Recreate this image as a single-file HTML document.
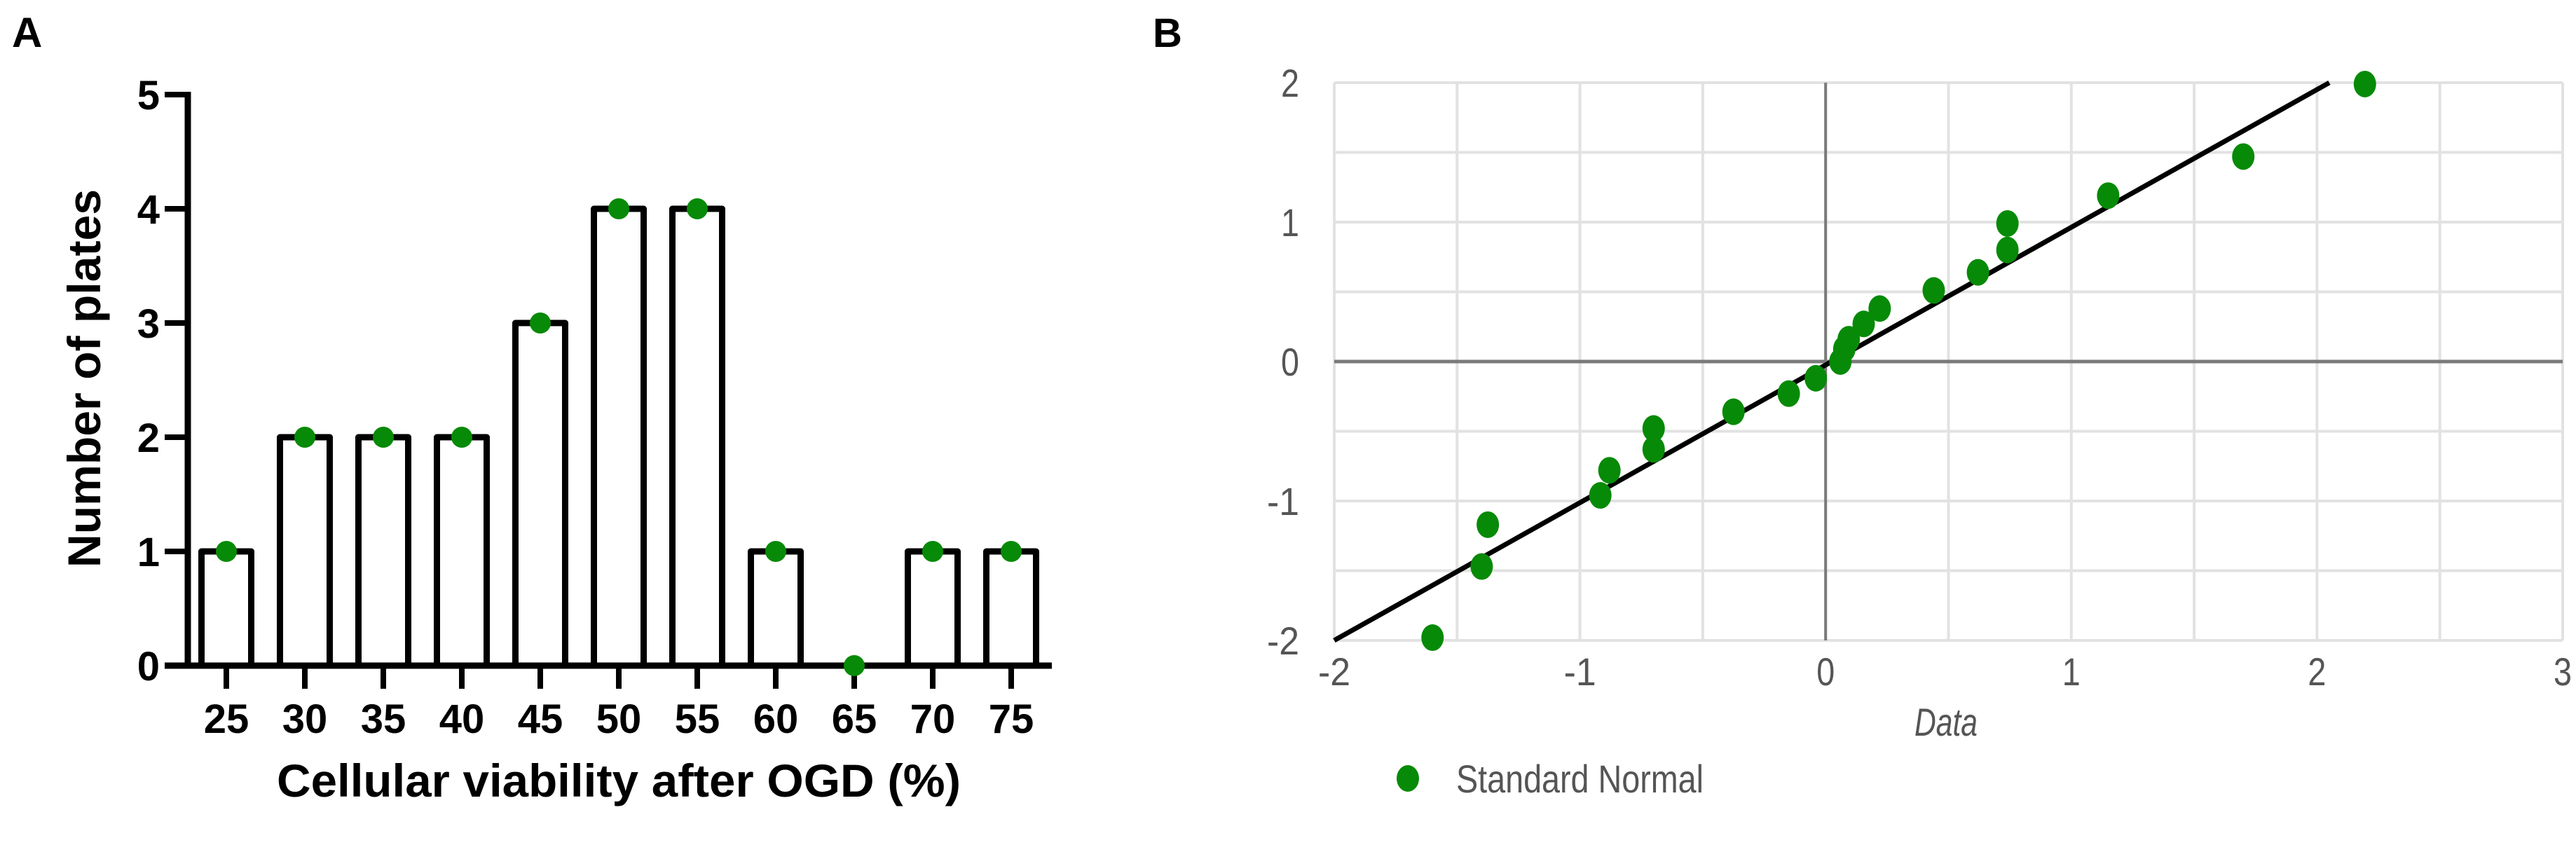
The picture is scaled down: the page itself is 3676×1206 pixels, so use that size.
<!DOCTYPE html>
<html><head><meta charset="utf-8"><style>
html,body{margin:0;padding:0;background:#fff;}
svg{display:block;}
</style></head><body>
<svg id="fig" xmlns="http://www.w3.org/2000/svg" width="3676" height="1206" viewBox="0 0 3676 1206">
<rect x="0" y="0" width="3676" height="1206" fill="#fff"/>
<g id="panelA"></g>
<g id="panelB"></g>
</svg>
<script>
const catsA = [25,30,35,40,45,50,55,60,65,70,75];
const countsA = [1,2,2,2,3,4,4,1,0,1,1];
const yTicksA = [0,1,2,3,4,5];

const xData = [-1.60,-1.40,-1.375,-0.917,-0.88,-0.70,-0.70,-0.375,-0.15,-0.04,0.06,0.076,0.094,0.155,0.22,0.44,0.62,0.74,0.74,1.15,1.70,2.195];
const yNormal = [-1.98,-1.47,-1.17,-0.96,-0.78,-0.63,-0.48,-0.36,-0.23,-0.12,0.0,0.09,0.16,0.27,0.38,0.51,0.64,0.80,0.99,1.19,1.47,1.99];
const xTicksB = [-2,-1,0,1,2,3];
const yTicksB = [-2,-1,0,1,2];
const fitLineX = [-2,2.05];
const fitLineY = [-2,2];

const NS="http://www.w3.org/2000/svg";
function mk(parent,tag,attrs,text){const e=document.createElementNS(NS,tag);for(const k in attrs)e.setAttribute(k,attrs[k]);if(text!==undefined)e.textContent=text;parent.appendChild(e);return e;}
const GREEN="#078a07";

// ---------- Panel A ----------
const A=document.getElementById('panelA');
const ayA=v=>950-163*v;
const axA=i=>323+112*i;
let t;
t=mk(A,'text',{x:17,y:67,'font-family':'Liberation Sans, sans-serif','font-weight':'bold','font-size':60},'A');


// bars
catsA.forEach((c,i)=>{
  if(countsA[i]>0){
    const r=mk(A,'rect',{x:axA(i)-35.5,y:ayA(countsA[i]),width:71,height:950-ayA(countsA[i]),fill:'#fff',stroke:'#000','stroke-width':9,'stroke-linejoin':'round'});
    
    
  }
});
// axes
let l=mk(A,'line',{x1:268,y1:ayA(5)-4,x2:268,y2:954,stroke:'#000','stroke-width':9});


l=mk(A,'line',{x1:235,y1:950,x2:1501,y2:950,stroke:'#000','stroke-width':9});


yTicksA.forEach(v=>{
  const tk=mk(A,'line',{x1:235,y1:ayA(v),x2:268,y2:ayA(v),stroke:'#000','stroke-width':8});
  
  
  const tl=mk(A,'text',{x:228,y:ayA(v)+21,'text-anchor':'end','font-family':'Liberation Sans, sans-serif','font-weight':'bold','font-size':58},String(v));
  
  
});
catsA.forEach((c,i)=>{
  const tk=mk(A,'line',{x1:axA(i),y1:950,x2:axA(i),y2:983,stroke:'#000','stroke-width':8});
  
  
  const tl=mk(A,'text',{x:axA(i),y:1046,'text-anchor':'middle','font-family':'Liberation Sans, sans-serif','font-weight':'bold','font-size':58},String(c));
  
  
});
// dots
catsA.forEach((c,i)=>{
  const d=mk(A,'circle',{cx:axA(i),cy:ayA(countsA[i]),r:15,fill:GREEN});
  
  
});
t=mk(A,'text',{x:883,y:1137,'text-anchor':'middle','font-family':'Liberation Sans, sans-serif','font-weight':'bold','font-size':66,textLength:976,lengthAdjust:'spacingAndGlyphs'},'Cellular viability after OGD (%)');


t=mk(A,'text',{x:0,y:0,'text-anchor':'middle','font-family':'Liberation Sans, sans-serif','font-weight':'bold','font-size':66,textLength:540,lengthAdjust:'spacingAndGlyphs',transform:'translate(143,540) rotate(-90)'},'Number of plates');



// ---------- Panel B ----------
const B=document.getElementById('panelB');
const bx=v=>1904+350.6*(v+2);
const by=v=>516-199*v;
t=mk(B,'text',{x:1645,y:67,'font-family':'Liberation Sans, sans-serif','font-weight':'bold','font-size':58},'B');


// grid
for(let v=-2;v<=3.001;v+=0.5){
  const g=mk(B,'line',{x1:bx(v),y1:by(2),x2:bx(v),y2:by(-2),stroke:'#e2e2e2','stroke-width':4});
  
  
}
for(let v=-2;v<=2.001;v+=0.5){
  const g=mk(B,'line',{x1:bx(-2),y1:by(v),x2:bx(3),y2:by(v),stroke:'#e2e2e2','stroke-width':4});
  
  
}
l=mk(B,'line',{x1:bx(0),y1:by(2),x2:bx(0),y2:by(-2),stroke:'#7a7a7a','stroke-width':4});


l=mk(B,'line',{x1:bx(-2),y1:by(0),x2:bx(3),y2:by(0),stroke:'#7a7a7a','stroke-width':5});


yTicksB.forEach(v=>{
  const tl=mk(B,'text',{x:1854,y:by(v)+20,'text-anchor':'end','font-family':'Liberation Sans, sans-serif','font-size':56,fill:'#555',transform:'',textLength:(v<0?46:26),lengthAdjust:'spacingAndGlyphs'},String(v));
  
  
});
xTicksB.forEach(v=>{
  const tl=mk(B,'text',{x:bx(v),y:978,'text-anchor':'middle','font-family':'Liberation Sans, sans-serif','font-size':56,fill:'#555',textLength:(v<0?46:26),lengthAdjust:'spacingAndGlyphs'},String(v));
  
  
});
// fit line
l=mk(B,'line',{x1:bx(fitLineX[0]),y1:by(fitLineY[0]),x2:bx(fitLineX[1]),y2:by(fitLineY[1]),stroke:'#000','stroke-width':7});


xData.forEach((x,i)=>{
  const d=mk(B,'ellipse',{cx:bx(x),cy:by(yNormal[i]),rx:16,ry:19,fill:GREEN});
  
  
});
t=mk(B,'text',{x:2777,y:1050,'text-anchor':'middle','font-family':'Liberation Sans, sans-serif','font-style':'italic','font-size':56,fill:'#555',textLength:90,lengthAdjust:'spacingAndGlyphs'},'Data');


const lg=mk(B,'g',{});


mk(lg,'ellipse',{cx:2009,cy:1111,rx:16,ry:19,fill:GREEN});
mk(lg,'text',{x:2078,y:1131,'font-family':'Liberation Sans, sans-serif','font-size':56,fill:'#555',textLength:353,lengthAdjust:'spacingAndGlyphs'},'Standard Normal');
</script>
</body></html>
